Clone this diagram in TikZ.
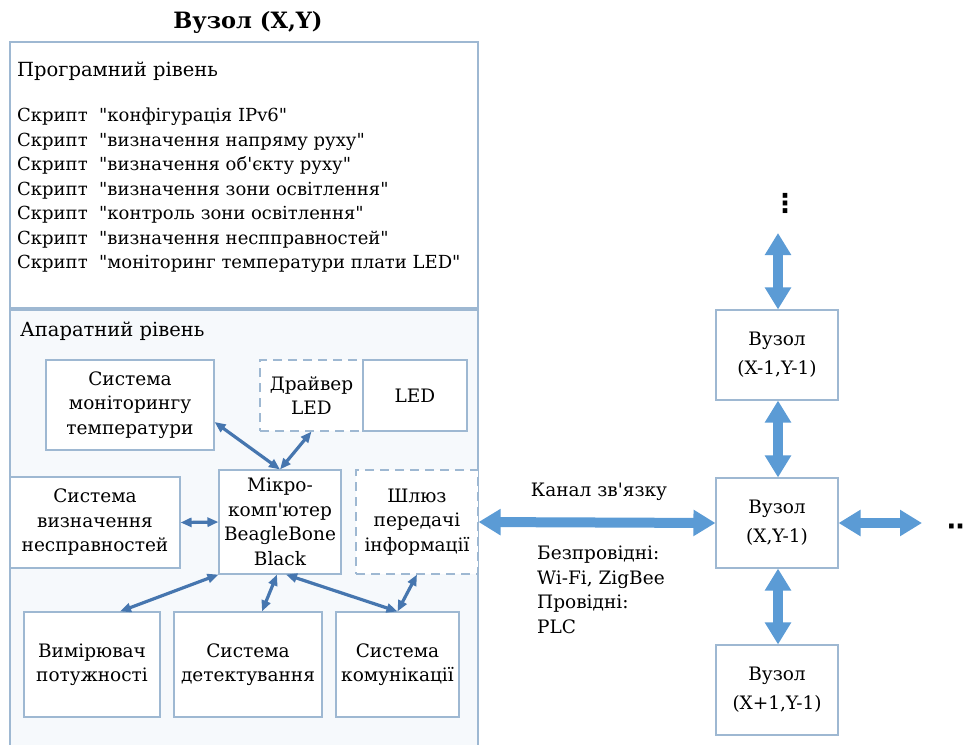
\documentclass[tikz,border=0pt]{standalone}
\usepackage{fontspec}
\setmainfont{DejaVu Serif}[Ligatures=TeXOff]
\newfontfamily\symfont{DejaVu Sans}
\usetikzlibrary{arrows.meta,positioning,calc}
\definecolor{boxc}{RGB}{158,184,210}
\definecolor{hwfill}{RGB}{246,249,252}
\definecolor{lnc}{RGB}{70,118,175}
\definecolor{bgc}{RGB}{91,155,213}

\begin{document}
\begin{tikzpicture}[x=1pt,y=-1pt,font=\fontsize{18.5}{24.5}\selectfont,
 bx/.style={draw=boxc,line width=1.1pt,fill=white,align=center,inner sep=0pt},
 dbx/.style={bx,dash pattern=on 9pt off 6pt},
 nd/.style={bx,minimum width=122pt,minimum height=90pt,font=\fontsize{18.5}{29}\selectfont},
 ln/.style={draw=lnc,line width=3.2pt,{Triangle[width=9pt,length=11pt]}-{Triangle[width=9pt,length=11pt]}},
 bg/.style={draw=bgc,line width=10pt,{Triangle[width=25pt,length=22pt]}-{Triangle[width=25pt,length=22pt]}}]
\useasboundingbox (0,0) rectangle (963,744);
\node[font=\fontsize{22.5}{24}\selectfont\bfseries] (title) at (248,22) {Вузол (X,Y)};
% program level
\draw[boxc,line width=1.1pt] (10,42) rectangle (478,308);
\node[anchor=west,inner sep=0pt,font=\fontsize{19.5}{24}\selectfont] (sw) at (17,71) {Програмний рівень};
\node[anchor=north west,align=left,inner sep=0pt,font=\fontsize{18}{24.5}\selectfont] (scripts) at (17,108) {%
Скрипт\ \ "конфігурація IPv6"\\
Скрипт\ \ "визначення напряму руху"\\
Скрипт\ \ "визначення об'єкту руху"\\
Скрипт\ \ "визначення зони освітлення"\\
Скрипт\ \ "контроль зони освітлення"\\
Скрипт\ \ "визначення несппpавностей"\\
Скрипт\ \ "моніторинг температури плати LED"};
% hardware level
\draw[boxc,line width=1.1pt,fill=hwfill] (10,310) rectangle (478,760);
\node[anchor=west,inner sep=0pt,font=\fontsize{19.5}{24}\selectfont] (hw) at (20,331) {Апаратний рівень};
\node[bx,minimum width=168pt,minimum height=90pt] (temp) at (130,405) {Система\\моніторингу\\температури};
\node[dbx,minimum width=103pt,minimum height=71pt] (drv) at (311.5,395.5) {Драйвер\\LED};
\node[bx,minimum width=104pt,minimum height=71pt] (led) at (415,395.5) {LED};
\node[bx,minimum width=170pt,minimum height=91pt] (def) at (95,522.5) {Система\\визначення\\несправностей};
\node[bx,minimum width=122pt,minimum height=104pt] (mcu) at (280,522) {Мікро-\\комп'ютер\\BeagleBone\\Black};
\node[dbx,minimum width=122pt,minimum height=104pt] (gw) at (417,522) {Шлюз\\передачі\\інформації};
\node[bx,minimum width=136pt,minimum height=105pt] (pm) at (92,664.5) {Вимірювач\\потужності};
\node[bx,minimum width=148pt,minimum height=105pt] (det) at (248,664.5) {Система\\детектування};
\node[bx,minimum width=123pt,minimum height=105pt] (com) at (397.5,664.5) {Система\\комунікації};
\draw[ln] ([yshift=-17pt]temp.east) -- (mcu.north);
\draw[ln] (drv.south) -- (mcu.north);
\draw[ln] (def.east) -- (mcu.west);
\draw[ln] (mcu.south west) -- ([xshift=28pt]pm.north);
\draw[ln] ([xshift=-3pt]mcu.south) -- ([xshift=14pt]det.north);
\draw[ln] ([xshift=6pt]mcu.south) -- (com.north);
\draw[ln] (gw.south) -- (com.north);
% neighbour nodes
\node[nd] (nd1) at (777,355) {Вузол\\(X-1,Y-1)};
\node[nd] (nd2) at (777,523) {Вузол\\(X,Y-1)};
\node[nd] (nd3) at (777,690) {Вузол\\(X+1,Y-1)};
\node[font=\fontsize{26}{26}\selectfont\symfont\bfseries,inner sep=0pt] (vd) at (785,203) {⋮};
\node[anchor=west,font=\fontsize{26}{26}\selectfont\symfont\bfseries,inner sep=0pt] (hd) at (947,530) {⋯};
\coordinate (up) at (778,233);
\coordinate (rt) at (922,523);
\draw[bg] (up) -- ([xshift=1pt]nd1.north);
\draw[bg] ([xshift=1pt]nd1.south) -- ([xshift=1pt]nd2.north);
\draw[bg] ([xshift=1pt]nd2.south) -- ([xshift=1pt]nd3.north);
\draw[bg] (gw.east) -- (nd2.west);
\draw[bg] (nd2.east) -- (rt);
\node (chan) at (599,492) {Канал зв'язку};
\node[anchor=north west,align=left,inner sep=0pt] (media) at (537,546) {Безпровідні:\\Wi-Fi, ZigBee\\Провідні:\\PLC};
\end{tikzpicture}
\end{document}
